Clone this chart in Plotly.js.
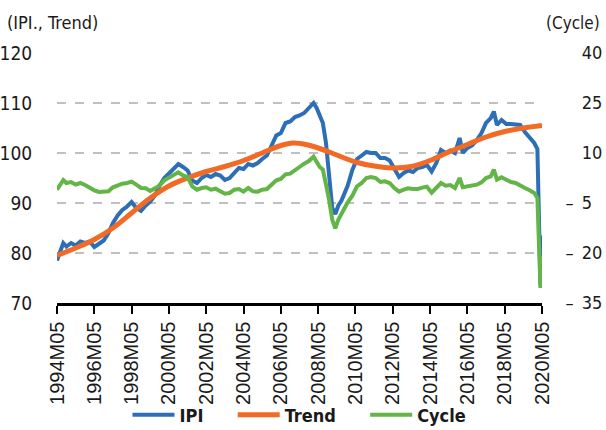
<!DOCTYPE html>
<html>
<head>
<meta charset="utf-8">
<script src="https://cdn.plot.ly/plotly-3.0.1.min.js"></script>
<style>html,body{margin:0;padding:0;background:#fff;}#chart{width:606px;height:430px;}</style>
</head>
<body>
<div id="chart"></div>
<script>
// IPI and Cycle share these dates
const dates = ["1994-05","1994-07","1994-09","1994-11","1995-02","1995-05","1995-08","1995-11","1996-02","1996-05","1996-08","1996-11","1997-02","1997-05","1997-08","1997-11","1998-02","1998-05","1998-08","1998-11","1999-02","1999-05","1999-08","1999-11","2000-02","2000-05","2000-08","2000-11","2001-02","2001-05","2001-08","2001-11","2002-02","2002-05","2002-08","2002-11","2003-02","2003-05","2003-08","2003-11","2004-02","2004-05","2004-08","2004-11","2005-02","2005-05","2005-08","2005-11","2006-02","2006-05","2006-08","2006-11","2007-02","2007-05","2007-08","2007-11","2008-02","2008-04","2008-06","2008-08","2008-10","2008-12","2009-02","2009-04","2009-06","2009-08","2009-10","2009-12","2010-03","2010-06","2010-09","2010-12","2011-03","2011-06","2011-09","2011-12","2012-03","2012-06","2012-09","2012-12","2013-03","2013-06","2013-09","2013-12","2014-03","2014-06","2014-09","2014-12","2015-03","2015-06","2015-09","2015-12","2016-02","2016-05","2016-08","2016-11","2017-02","2017-05","2017-08","2017-10","2017-12","2018-03","2018-06","2018-09","2018-12","2019-03","2019-06","2019-09","2019-12","2020-02","2020-03","2020-04","2020-05"];
const ipi = [78.5,80.5,82.0,81.3,82.0,81.5,82.3,82.0,82.3,81.2,81.8,82.5,84.0,86.0,87.5,88.6,89.3,90.2,89.0,88.4,89.5,90.3,91.5,93.5,95.0,96.0,97.0,97.8,97.2,96.5,94.5,94.0,95.0,95.6,95.2,95.8,95.5,94.6,95.0,96.0,97.0,96.8,97.8,97.5,98.0,98.8,99.5,101.5,103.5,104.0,106.0,106.3,107.2,107.5,108.0,109.0,110.0,109.0,107.5,106.0,102.0,95.0,89.0,87.8,89.5,90.5,92.0,93.5,96.6,98.8,99.5,100.2,100.0,100.0,99.0,99.0,98.5,97.0,95.2,96.0,96.5,96.2,97.0,97.2,97.6,96.3,98.0,100.6,100.0,100.5,100.0,103.0,100.0,101.0,101.5,102.6,104.0,106.0,107.0,108.3,105.6,106.6,105.8,105.8,105.6,105.6,104.2,103.0,102.0,100.8,89.0,73.5,83.5];
const cycle = [-1.0,0.5,1.9,1.0,1.3,0.5,1.0,0.4,-0.5,-1.2,-1.7,-1.5,-1.5,-0.3,0.3,0.8,1.0,1.4,0.5,-0.5,-0.6,-1.4,-0.6,0.3,1.8,2.6,3.5,4.2,3.3,2.8,0.0,-1.0,-0.5,-0.3,-1.0,-0.7,-1.5,-2.2,-2.0,-1.0,-0.8,-1.6,-0.5,-1.5,-1.6,-1.0,-0.8,0.4,1.8,2.2,3.6,3.8,5.0,5.8,6.8,7.6,8.9,7.5,5.8,5.0,1.0,-4.0,-10.0,-12.6,-10.0,-8.0,-6.5,-4.8,-2.8,0.0,1.0,2.5,2.8,2.5,1.3,1.5,1.0,-0.5,-1.6,-1.0,-0.6,-0.8,-0.8,-0.4,-0.1,-1.9,-0.5,1.0,0.2,0.4,-0.5,2.5,-0.3,0.0,0.4,0.5,1.2,2.5,3.0,5.0,2.0,2.7,2.0,1.3,1.0,0.4,-0.5,-1.2,-2.0,-3.5,-15.5,-30.5,-21.0];
// Trend (smooth)
const trendDates = ["1994-05","1995-05","1996-05","1997-05","1998-05","1999-05","2000-05","2001-05","2002-05","2003-05","2004-05","2005-05","2006-05","2007-01","2007-09","2008-05","2009-05","2010-05","2011-05","2012-05","2013-05","2014-05","2015-05","2016-05","2017-05","2018-05","2019-05","2020-05"];
const trend = [79.5,81.0,82.7,85.0,88.0,91.0,93.4,95.0,96.3,97.3,98.5,100.0,101.5,102.0,101.7,101.0,99.6,98.2,97.4,97.0,97.3,98.5,100.2,101.7,103.2,104.3,105.0,105.5];
// Axis ticks
const xTickVals = ["1994-05-01","1996-05-01","1998-05-01","2000-05-01","2002-05-01","2004-05-01","2006-05-01","2008-05-01","2010-05-01","2012-05-01","2014-05-01","2016-05-01","2018-05-01","2020-05-01"];
const xTickText = ["1994M05","1996M05","1998M05","2000M05","2002M05","2004M05","2006M05","2008M05","2010M05","2012M05","2014M05","2016M05","2018M05","2020M05"];
const leftTicks = [70,80,90,100,110,120];
const rightTicks = [-35,-20,-5,10,25,40];
const rightTickText = ["\u2013\u200235","\u2013\u200220","\u2013\u20025","\u2002\u200210","\u2002\u200225","\u2002\u200240"];

const NARROW = '"DejaVu Sans Condensed", "DejaVu Sans", sans-serif';
const traces = [
  {x: dates, y: ipi, name: "IPI\u2003\u2002", type: "scatter", mode: "lines", line: {color: "#2C6FB7", width: 4}, yaxis: "y"},
  {x: trendDates, y: trend, name: "Trend\u2003\u2002", type: "scatter", mode: "lines", line: {color: "#F26B26", width: 5, shape: "spline"}, yaxis: "y"},
  {x: dates, y: cycle, name: "Cycle", type: "scatter", mode: "lines", line: {color: "#62B546", width: 4}, yaxis: "y2"}
];
const layout = {
  width: 606, height: 430,
  margin: {l: 57, r: 64, t: 53, b: 127, pad: 0, autoexpand: false},
  paper_bgcolor: "#fff", plot_bgcolor: "#fff",
  showlegend: true,
  font: {family: NARROW, color: "#1a1a1a", size: 18},
  xaxis: {
    type: "date", range: ["1994-05-01", "2020-05-01"],
    tickmode: "array", tickvals: xTickVals, ticktext: xTickText, tickangle: -90,
    ticks: "outside", ticklen: 8, tickwidth: 2, tickcolor: "#000",
    showline: true, linecolor: "#000", linewidth: 2.5,
    showgrid: false, zeroline: false, automargin: false,
    tickfont: {family: '"Liberation Sans", Arial, sans-serif', size: 20, color: "#1a1a1a"}
  },
  yaxis: {
    range: [70, 120], tickmode: "array", tickvals: leftTicks,
    showgrid: true, gridcolor: "#C0C0C0", gridwidth: 1.5, griddash: "dash",
    zeroline: false, showline: false, automargin: false,
    ticks: "outside", ticklen: 20, tickcolor: "rgba(0,0,0,0)",
    tickfont: {family: NARROW, size: 19, color: "#1a1a1a"}
  },
  yaxis2: {
    range: [-35, 40], overlaying: "y", side: "right",
    tickmode: "array", tickvals: rightTicks, ticktext: rightTickText,
    showgrid: false, zeroline: false, showline: false, automargin: false,
    ticks: "outside", ticklen: 19, tickcolor: "rgba(0,0,0,0)",
    tickfont: {family: NARROW, size: 18, color: "#1a1a1a"}
  },
  legend: {
    orientation: "h", x: 0.5, xanchor: "center", y: -0.448, yanchor: "middle",
    bgcolor: "rgba(0,0,0,0)",
    font: {family: NARROW, size: 18, weight: "bold", color: "#1a1a1a"},
    itemwidth: 42, traceorder: "normal"
  },
  annotations: [
    {text: "(IPI., Trend)", xref: "paper", yref: "paper", x: -0.107, y: 1.07, xanchor: "left", yanchor: "bottom", showarrow: false, font: {family: NARROW, size: 18, color: "#1a1a1a"}},
    {text: "(Cycle)", xref: "paper", yref: "paper", x: 1.124, y: 1.07, xanchor: "right", yanchor: "bottom", showarrow: false, font: {family: NARROW, size: 17, color: "#1a1a1a"}}
  ]
};
Plotly.newPlot("chart", traces, layout, {displayModeBar: false, staticPlot: true});
</script>
</body>
</html>
